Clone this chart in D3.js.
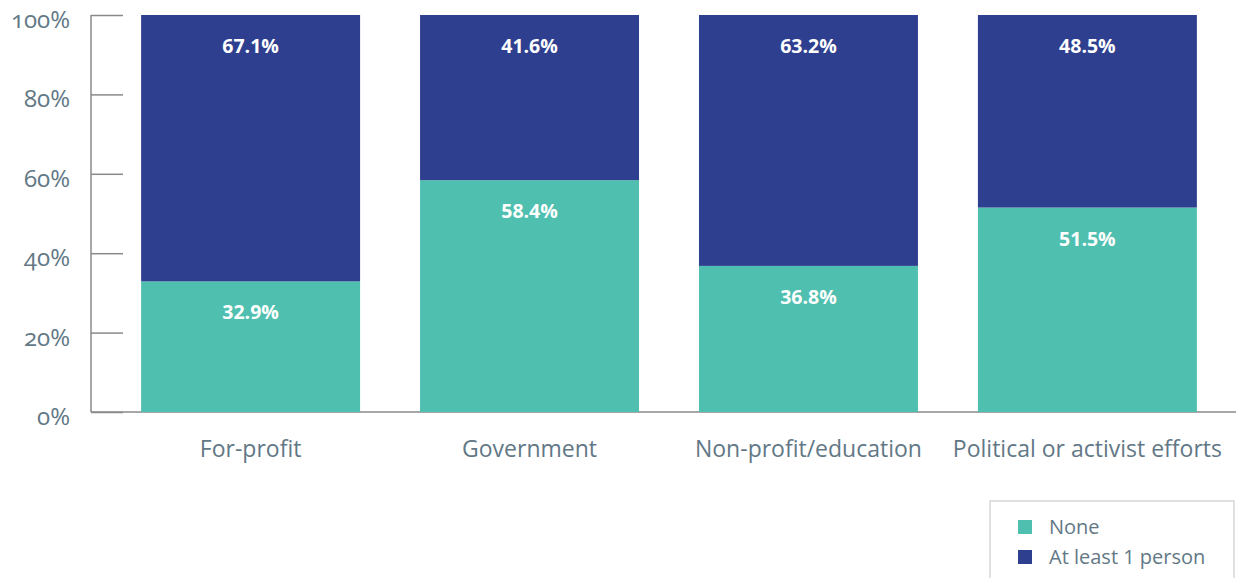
<!DOCTYPE html>
<html>
<head>
<meta charset="utf-8">
<script src="https://cdn.jsdelivr.net/npm/d3@7"></script>
<style>
    body { margin: 0; background: #fff; }
    text { font-family: "Open Sans", sans-serif; }
    .tick-label { font-variant-numeric: oldstyle-nums; font-feature-settings: "onum"; }
</style>
</head>
<body>
<div id="chart-area"></div>
<script>
const categories = ["For-profit", "Government", "Non-profit/education", "Political or activist efforts"];
const noneValues = [32.9, 58.4, 36.8, 51.5];
const atLeastOneValues = [67.1, 41.6, 63.2, 48.5];
const seriesNames = ["None", "At least 1 person"];
const yTicks = [0, 20, 40, 60, 80, 100];

const chartSize = { width: 1237, height: 578 };
const colors = { None: "#4fbfb0", "At least 1 person": "#2e3f8f" };
const textColor = "#627886";

const svg = d3.select("#chart-area")
    .append("svg")
    .attr("width", chartSize.width)
    .attr("height", chartSize.height);

const y = d3.scaleLinear().domain([0, 100]).range([412, 15]);
const x = d3.scaleBand()
    .domain(categories)
    .range([111, 1227])
    .paddingInner(0.215)
    .paddingOuter(0.108);

const rows = categories.map((c, i) => ({ cat: c, None: noneValues[i], "At least 1 person": atLeastOneValues[i] }));
const stacked = d3.stack().keys(seriesNames)(rows);

// axes lines
svg.append("line")
    .attr("x1", 91).attr("x2", 91)
    .attr("y1", y(100)).attr("y2", y(0))
    .attr("stroke", "#8a8a8a").attr("stroke-width", 1.5);
svg.append("line")
    .attr("x1", 91).attr("x2", 1236)
    .attr("y1", y(0)).attr("y2", y(0))
    .attr("stroke", "#8a8a8a").attr("stroke-width", 1.5);

const yAxis = d3.axisRight(y)
    .tickValues(yTicks)
    .tickSize(32)
    .tickFormat(d => `${d}%`);
const yG = svg.append("g")
    .attr("transform", "translate(91,0)")
    .call(yAxis);
yG.select(".domain").remove();
yG.selectAll(".tick line").attr("stroke", "#8a8a8a").attr("stroke-width", 1.5);
yG.selectAll(".tick text")
    .attr("class", "tick-label")
    .attr("x", -21)
    .attr("dy", "0.52em")
    .attr("text-anchor", "end")
    .attr("fill", textColor)
    .style("font-size", "24px")
    .style("font-family", "\"Open Sans\", sans-serif");

// bars
const groups = svg.selectAll(".series")
    .data(stacked)
    .join("g")
    .attr("class", "series")
    .attr("fill", d => colors[d.key]);

groups.selectAll("rect")
    .data(d => d)
    .join("rect")
    .attr("x", d => x(d.data.cat))
    .attr("width", x.bandwidth())
    .attr("y", d => y(d[1]))
    .attr("height", d => y(d[0]) - y(d[1]));

groups.selectAll(".value")
    .data(d => d)
    .join("text")
    .attr("class", "value")
    .attr("x", d => x(d.data.cat) + x.bandwidth() / 2)
    .attr("y", d => y(d[1]) + 38)
    .attr("text-anchor", "middle")
    .attr("fill", "#fff")
    .style("font-size", "19.5px")
    .style("font-weight", "bold")
    .text(d => `${(d[1] - d[0]).toFixed(1)}%`);

// category labels
svg.selectAll(".cat-label")
    .data(categories)
    .join("text")
    .attr("class", "cat-label")
    .attr("x", d => x(d) + x.bandwidth() / 2)
    .attr("y", 457)
    .attr("text-anchor", "middle")
    .attr("fill", textColor)
    .style("font-size", "23px")
    .text(d => d);

// legend
const legend = svg.append("g").attr("transform", "translate(990,501)");
legend.append("rect")
    .attr("width", 244).attr("height", 100)
    .attr("fill", "#fff").attr("stroke", "#cccccc").attr("stroke-width", 1.2);
const item = legend.selectAll(".item")
    .data(seriesNames)
    .join("g")
    .attr("class", "item")
    .attr("transform", (d, i) => `translate(28,${19 + i * 30})`);
item.append("rect")
    .attr("width", 14).attr("height", 14)
    .attr("fill", d => colors[d]);
item.append("text")
    .attr("x", 31).attr("y", 14)
    .attr("fill", textColor)
    .style("font-size", "20px")
    .text(d => d);
</script>
</body>
</html>
